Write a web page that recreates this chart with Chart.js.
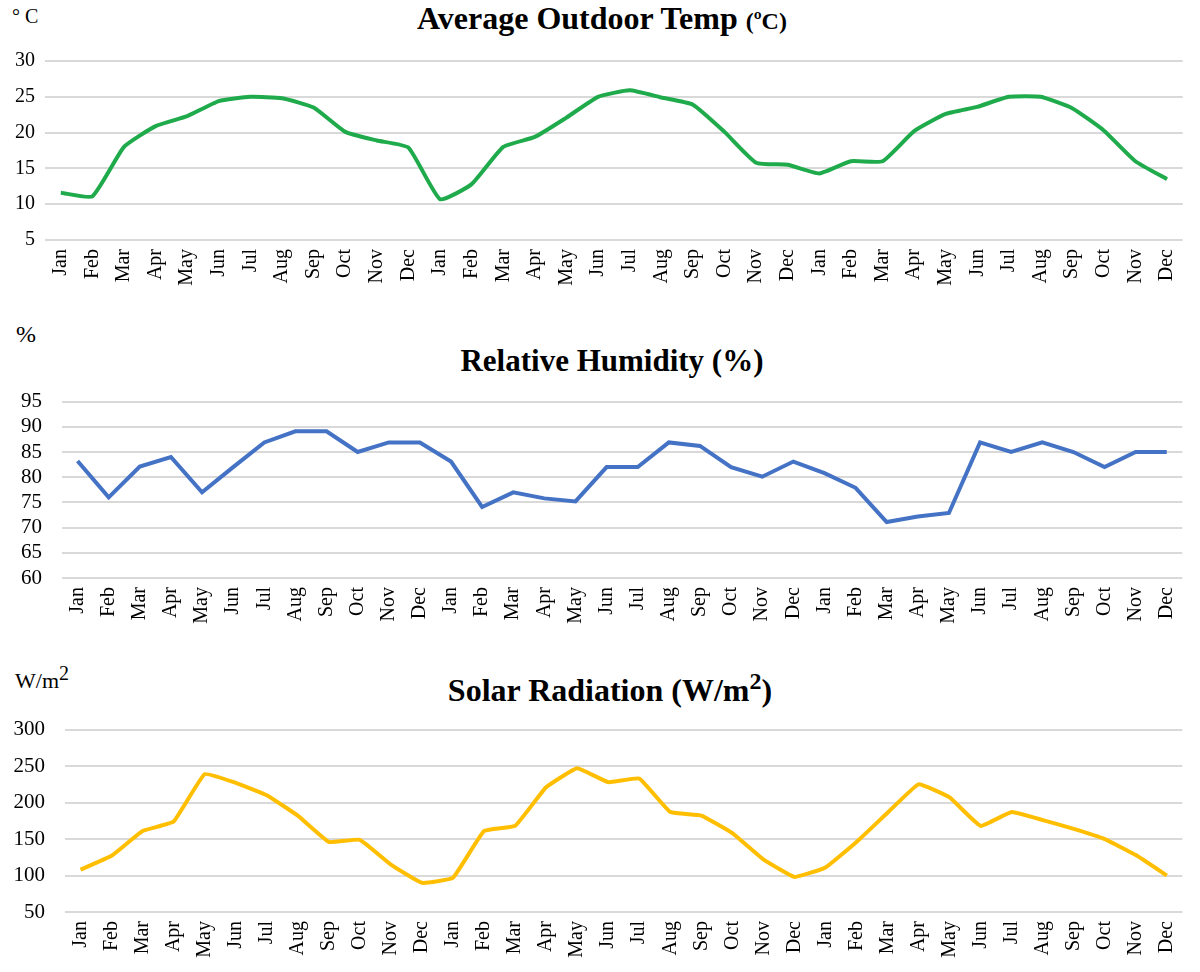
<!DOCTYPE html>
<html>
<head>
<meta charset="utf-8">
<script src="https://cdn.jsdelivr.net/npm/chart.js@4.4.0/dist/chart.umd.min.js"></script>
<style>
  body { margin: 0; background: #fff; width: 1200px; height: 972px; position: relative; overflow: hidden; font-family: "Liberation Serif", serif; }
  .box { position: absolute; left: 0; width: 1200px; }
  .title { position: absolute; left: 0; width: 1200px; text-align: center; font-weight: bold; font-size: 31px; color: #000; white-space: nowrap; }
  .unit { position: absolute; font-size: 20px; color: #000; }
</style>
</head>
<body>
<div class="unit" style="left:12px; top:5px;">° C</div>
<div class="title" style="top:0px; padding-left:2px; font-size:32px;">Average Outdoor Temp <span style="font-size:24px">(ºC)</span></div>
<div class="box" style="top:39px; height:251px;"><canvas id="temp-chart"></canvas></div>

<div class="unit" style="left:16px; top:321px; font-size:24px;">%</div>
<div class="title" style="top:343px; padding-left:12px;">Relative Humidity (%)</div>
<div class="box" style="top:369px; height:259px;"><canvas id="humidity-chart"></canvas></div>

<div class="unit" style="left:15px; top:662px; font-size:22px;">W/m<sup style="font-size:20px;">2</sup></div>
<div class="title" style="top:668px; padding-left:10px; font-size:32px;">Solar Radiation (W/m<sup style="font-size:24px;">2</sup>)</div>
<div class="box" style="top:697px; height:265px;"><canvas id="solar-chart"></canvas></div>

<script>
const months = ['Jan', 'Feb', 'Mar', 'Apr', 'May', 'Jun', 'Jul', 'Aug', 'Sep', 'Oct', 'Nov', 'Dec'];
const labels = months.concat(months, months);

const tempValues = [11.6, 11.1, 18.0, 20.9, 22.3, 24.4, 25.0, 24.8, 23.5, 20.1, 18.9, 17.9,
  10.7, 12.8, 18.0, 19.4, 22.1, 25.0, 25.9, 24.9, 23.9, 20.1, 15.8, 15.5,
  14.3, 16.0, 16.0, 20.2, 22.6, 23.6, 25.0, 25.0, 23.4, 20.3, 16.0, 13.5];

const humidityValues = [83.2, 76.0, 82.1, 84.0, 77.0, 82.0, 86.9, 89.1, 89.1, 85.0, 86.9, 86.9,
  83.1, 74.1, 77.0, 75.8, 75.2, 82.0, 82.0, 86.9, 86.2, 82.0, 80.1, 83.1,
  80.8, 77.9, 71.1, 72.2, 72.9, 86.9, 85.0, 86.9, 85.0, 82.0, 85.0, 85.0];

const solarValues = [108, 127, 161, 174, 239, 227, 210, 182, 146, 149, 115, 90,
  97, 161, 168, 221, 247, 228, 233, 187, 182, 158, 122, 98,
  111, 146, 186, 225, 207, 168, 187, 176, 164, 150, 128, 100];

const serif = "'Liberation Serif', 'Times New Roman', serif";

// axisWidth / padRight put the plot edges where the reference has them
function makeChart(id, values, color, min, max, step, tension, axisWidth, padRight, fontSize, yPad) {
  const ctx = document.getElementById(id).getContext('2d');
  const font = { family: serif, size: fontSize };
  return new Chart(ctx, {
    type: 'line',
    data: {
      labels: labels,
      datasets: [{
        data: values,
        borderColor: color,
        borderWidth: 4,
        pointRadius: 0,
        tension: tension,
        fill: false
      }]
    },
    options: {
      responsive: true,
      maintainAspectRatio: false,
      animation: false,
      layout: { padding: { top: 0, right: padRight, left: 0, bottom: 0 } },
      plugins: { legend: { display: false }, tooltip: { enabled: false } },
      scales: {
        x: {
          offset: true,
          grid: { display: false, drawTicks: false },
          border: { display: false },
          ticks: { font: { family: serif, size: 20 }, color: '#000', minRotation: 90, maxRotation: 90, autoSkip: false, padding: 9 },
          afterFit: (scale) => { scale.height = 50; }
        },
        y: {
          min: min,
          max: max,
          grid: { color: '#d9d9d9', lineWidth: 2, drawTicks: false },
          border: { display: false },
          ticks: { font: font, color: '#000', stepSize: step, padding: yPad, autoSkip: false },
          afterFit: (scale) => { scale.width = axisWidth; }
        }
      }
    }
  });
}

const tempChart = makeChart('temp-chart', tempValues, '#1faa4b', 5, 30, 5, 0.15, 45, 3, 20, 10);
const humidityChart = makeChart('humidity-chart', humidityValues, '#4472c4', 60, 95, 5, 0, 62, 16, 21, 20);
const solarChart = makeChart('solar-chart', solarValues, '#ffbf00', 50, 300, 50, 0.1, 65, 9, 21, 20);
</script>
</body>
</html>
